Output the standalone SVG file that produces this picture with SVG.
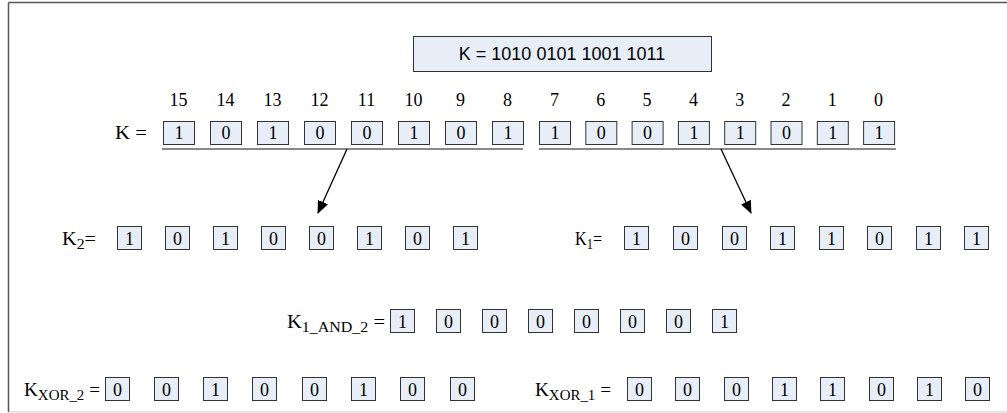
<svg xmlns="http://www.w3.org/2000/svg" width="1007" height="413" viewBox="0 0 1007 413">
  <style>
    .bit { fill: #e8eef8; stroke: #333; stroke-width: 1; }
    .d { font-family: "Liberation Serif", "Times New Roman", serif; font-size: 18px; fill: #000; text-anchor: middle; }
    .lbl { font-family: "Liberation Serif", "Times New Roman", serif; font-size: 18px; fill: #000; text-anchor: start; }
    .sub { font-size: 14px; }
    .hdr { font-family: "Liberation Sans", Arial, sans-serif; font-size: 18px; fill: #000; text-anchor: middle; }
    .under { stroke: #888; stroke-width: 2; fill: none; }
    .conn { stroke: #000; stroke-width: 1.3; fill: none; }
  </style>
  <defs>
    <marker id="ah" markerWidth="13" markerHeight="11" refX="12" refY="5.5" orient="auto" markerUnits="userSpaceOnUse">
      <path d="M0,0 L13,5.5 L0,11 Z" fill="#000"/>
    </marker>
  </defs>

  <rect x="0" y="0" width="1007" height="413" fill="#fff"/>
  <!-- outer frame -->
  <line x1="8.5" y1="2.5" x2="1007" y2="2.5" stroke="#555" stroke-width="1.5"/>
  <line x1="8.5" y1="2.5" x2="8.5" y2="412" stroke="#555" stroke-width="1.5"/>
  <line x1="8.5" y1="412" x2="1007" y2="412" stroke="#ccc" stroke-width="1"/>

  <!-- header -->
  <g id="header">
    <rect x="413.5" y="36.5" width="298" height="35" class="bit" stroke="#555"/>
    <text x="562" y="60" class="hdr">K = 1010 0101 1001 1011</text>
  </g>

  <!-- full key with bit indices -->
  <g id="key">
    <text x="115" y="139" class="lbl" textLength="32" lengthAdjust="spacingAndGlyphs">K =</text>
    <g class="d">
      <text x="178.5" y="106">15</text><text x="225.5" y="106">14</text><text x="272.5" y="106">13</text><text x="319.5" y="106">12</text>
      <text x="366.5" y="106">11</text><text x="413.5" y="106">10</text><text x="460.5" y="106">9</text><text x="507.5" y="106">8</text>
      <text x="554.5" y="106">7</text><text x="600.8" y="106">6</text><text x="647.1" y="106">5</text><text x="693.4" y="106">4</text>
      <text x="739.7" y="106">3</text><text x="786" y="106">2</text><text x="832.3" y="106">1</text><text x="878.6" y="106">0</text>
    </g>
    <g>
      <rect class="bit" x="163.5" y="121.5" width="31" height="23"/><rect class="bit" x="210.5" y="121.5" width="31" height="23"/>
      <rect class="bit" x="257.5" y="121.5" width="31" height="23"/><rect class="bit" x="304.5" y="121.5" width="31" height="23"/>
      <rect class="bit" x="351.5" y="121.5" width="31" height="23"/><rect class="bit" x="398.5" y="121.5" width="31" height="23"/>
      <rect class="bit" x="445.5" y="121.5" width="31" height="23"/><rect class="bit" x="492.5" y="121.5" width="31" height="23"/>
      <rect class="bit" x="539.5" y="121.5" width="31" height="23"/><rect class="bit" x="585.8" y="121.5" width="31" height="23"/>
      <rect class="bit" x="632.1" y="121.5" width="31" height="23"/><rect class="bit" x="678.4" y="121.5" width="31" height="23"/>
      <rect class="bit" x="724.7" y="121.5" width="31" height="23"/><rect class="bit" x="771" y="121.5" width="31" height="23"/>
      <rect class="bit" x="817.3" y="121.5" width="31" height="23"/><rect class="bit" x="863.6" y="121.5" width="31" height="23"/>
    </g>
    <g class="d">
      <text x="179" y="139">1</text><text x="226" y="139">0</text><text x="273" y="139">1</text><text x="320" y="139">0</text>
      <text x="367" y="139">0</text><text x="414" y="139">1</text><text x="461" y="139">0</text><text x="508" y="139">1</text>
      <text x="555" y="139">1</text><text x="601.3" y="139">0</text><text x="647.6" y="139">0</text><text x="693.9" y="139">1</text>
      <text x="740.2" y="139">1</text><text x="786.5" y="139">0</text><text x="832.8" y="139">1</text><text x="879.1" y="139">1</text>
    </g>
    <line class="under" x1="162" y1="149" x2="523" y2="149"/>
    <line class="under" x1="539" y1="149" x2="896" y2="149"/>
  </g>

  <!-- connectors -->
  <g id="connectors">
    <line class="conn" x1="347" y1="149" x2="318" y2="213" marker-end="url(#ah)"/>
    <line class="conn" x1="721" y1="149" x2="751" y2="213" marker-end="url(#ah)"/>
  </g>

  <!-- upper byte K2 -->
  <g id="k2">
    <text x="62" y="244.5" class="lbl" textLength="34" lengthAdjust="spacingAndGlyphs">K<tspan class="sub" dy="4">2</tspan><tspan dy="-4">=</tspan></text>
    <rect class="bit" x="117.5" y="226.5" width="24" height="23"/><rect class="bit" x="165.5" y="226.5" width="24" height="23"/>
    <rect class="bit" x="213.5" y="226.5" width="24" height="23"/><rect class="bit" x="261.5" y="226.5" width="24" height="23"/>
    <rect class="bit" x="309.5" y="226.5" width="24" height="23"/><rect class="bit" x="357.5" y="226.5" width="24" height="23"/>
    <rect class="bit" x="405.5" y="226.5" width="24" height="23"/><rect class="bit" x="453.5" y="226.5" width="24" height="23"/>
    <g class="d">
      <text x="129.5" y="244.5">1</text><text x="177.5" y="244.5">0</text><text x="225.5" y="244.5">1</text><text x="273.5" y="244.5">0</text>
      <text x="321.5" y="244.5">0</text><text x="369.5" y="244.5">1</text><text x="417.5" y="244.5">0</text><text x="465.5" y="244.5">1</text>
    </g>
  </g>

  <!-- lower byte K1 -->
  <g id="k1">
    <text x="575" y="244.5" class="lbl" textLength="27" lengthAdjust="spacingAndGlyphs">K<tspan class="sub" dy="4">1</tspan><tspan dy="-4">=</tspan></text>
    <rect class="bit" x="624.5" y="226.5" width="24" height="23"/><rect class="bit" x="673.5" y="226.5" width="24" height="23"/>
    <rect class="bit" x="722.5" y="226.5" width="24" height="23"/><rect class="bit" x="770.5" y="226.5" width="24" height="23"/>
    <rect class="bit" x="819.5" y="226.5" width="24" height="23"/><rect class="bit" x="867.5" y="226.5" width="24" height="23"/>
    <rect class="bit" x="916.5" y="226.5" width="24" height="23"/><rect class="bit" x="964.5" y="226.5" width="24" height="23"/>
    <g class="d">
      <text x="636.5" y="244.5">1</text><text x="685.5" y="244.5">0</text><text x="734.5" y="244.5">0</text><text x="782.5" y="244.5">1</text>
      <text x="831.5" y="244.5">1</text><text x="879.5" y="244.5">0</text><text x="928.5" y="244.5">1</text><text x="976.5" y="244.5">1</text>
    </g>
  </g>

  <!-- AND of both bytes -->
  <g id="kand">
    <text x="287" y="327.5" class="lbl" textLength="98" lengthAdjust="spacingAndGlyphs">K<tspan class="sub" dy="4">1_AND_2</tspan><tspan dy="-4"> =</tspan></text>
    <rect class="bit" x="390.5" y="309.5" width="24" height="23"/><rect class="bit" x="436.5" y="309.5" width="24" height="23"/>
    <rect class="bit" x="482.5" y="309.5" width="24" height="23"/><rect class="bit" x="528.5" y="309.5" width="24" height="23"/>
    <rect class="bit" x="574.5" y="309.5" width="24" height="23"/><rect class="bit" x="620.5" y="309.5" width="24" height="23"/>
    <rect class="bit" x="666.5" y="309.5" width="24" height="23"/><rect class="bit" x="712.5" y="309.5" width="24" height="23"/>
    <g class="d">
      <text x="402.5" y="327.5">1</text><text x="448.5" y="327.5">0</text><text x="494.5" y="327.5">0</text><text x="540.5" y="327.5">0</text>
      <text x="586.5" y="327.5">0</text><text x="632.5" y="327.5">0</text><text x="678.5" y="327.5">0</text><text x="724.5" y="327.5">1</text>
    </g>
  </g>

  <!-- XOR of K2 -->
  <g id="kxor2">
    <text x="24" y="395.5" class="lbl" textLength="76" lengthAdjust="spacingAndGlyphs">K<tspan class="sub" dy="4">XOR_2</tspan><tspan dy="-4"> =</tspan></text>
    <rect class="bit" x="105.5" y="377.5" width="24" height="23"/><rect class="bit" x="154.5" y="377.5" width="24" height="23"/>
    <rect class="bit" x="203.5" y="377.5" width="24" height="23"/><rect class="bit" x="252.5" y="377.5" width="24" height="23"/>
    <rect class="bit" x="302.5" y="377.5" width="24" height="23"/><rect class="bit" x="351.5" y="377.5" width="24" height="23"/>
    <rect class="bit" x="400.5" y="377.5" width="24" height="23"/><rect class="bit" x="450.5" y="377.5" width="24" height="23"/>
    <g class="d">
      <text x="117.5" y="395.5">0</text><text x="166.5" y="395.5">0</text><text x="215.5" y="395.5">1</text><text x="264.5" y="395.5">0</text>
      <text x="314.5" y="395.5">0</text><text x="363.5" y="395.5">1</text><text x="412.5" y="395.5">0</text><text x="462.5" y="395.5">0</text>
    </g>
  </g>

  <!-- XOR of K1 -->
  <g id="kxor1">
    <text x="535" y="395.5" class="lbl" textLength="76" lengthAdjust="spacingAndGlyphs">K<tspan class="sub" dy="4">XOR_1</tspan><tspan dy="-4"> =</tspan></text>
    <rect class="bit" x="627.5" y="377.5" width="24" height="23"/><rect class="bit" x="675.5" y="377.5" width="24" height="23"/>
    <rect class="bit" x="724.5" y="377.5" width="24" height="23"/><rect class="bit" x="772.5" y="377.5" width="24" height="23"/>
    <rect class="bit" x="820.5" y="377.5" width="24" height="23"/><rect class="bit" x="869.5" y="377.5" width="24" height="23"/>
    <rect class="bit" x="917.5" y="377.5" width="24" height="23"/><rect class="bit" x="965.5" y="377.5" width="24" height="23"/>
    <g class="d">
      <text x="639.5" y="395.5">0</text><text x="687.5" y="395.5">0</text><text x="736.5" y="395.5">0</text><text x="784.5" y="395.5">1</text>
      <text x="832.5" y="395.5">1</text><text x="881.5" y="395.5">0</text><text x="929.5" y="395.5">1</text><text x="977.5" y="395.5">0</text>
    </g>
  </g>
</svg>
